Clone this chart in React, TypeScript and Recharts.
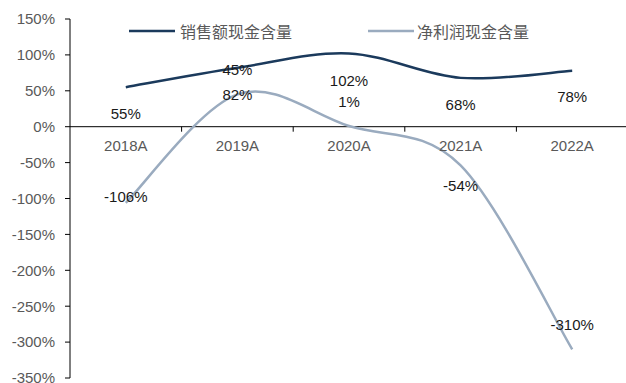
import React from 'react';
import { LineChart, Line, XAxis, YAxis, ReferenceLine, Legend } from 'recharts';

// ---- data ----
const categories = ['2018A', '2019A', '2020A', '2021A', '2022A'];
const salesCash = [55, 82, 102, 68, 78];
const profitCash = [-106, 45, 1, -54, -310];
const yTicks = [150, 100, 50, 0, -50, -100, -150, -200, -250, -300, -350];
const seriesNames = ['销售额现金含量', '净利润现金含量'];

// label placement (px offset from the point, vertical)
const salesLabelDy = [27, 27, 27, 27, 26];
const profitLabelDy = [-6, -25, -24, 20, -25];

const data = categories.map((c, i) => ({ category: c, sales: salesCash[i], profit: profitCash[i] }));

// ---- layout ----
const W = 626;
const H = 383;
const margin = { top: 19, right: -2, bottom: 4, left: 0 };
const yAxisWidth = 70;
const xAxisHeight = 1;
const yMin = -350;
const yMax = 150;
const plotTop = margin.top;
const plotH = H - margin.top - margin.bottom - xAxisHeight;
const plotW = W - margin.left - margin.right - yAxisWidth;
const zeroY = plotTop + (plotH * (yMax - 0)) / (yMax - yMin);
const bandW = plotW / categories.length;

const DARK = '#1b3a5c';
const LIGHT = '#9aabbf';
const GRAY = '#595959';
const FONT = '"Liberation Sans", Arial, sans-serif';

// Excel-like smooth curve (Catmull-Rom style bezier)
function excelSmooth(context: any) {
  let pts: [number, number][] = [];
  return {
    areaStart() {},
    areaEnd() {},
    lineStart() {
      pts = [];
    },
    lineEnd() {
      const n = pts.length;
      if (!n) return;
      context.moveTo(pts[0][0], pts[0][1]);
      for (let i = 0; i < n - 1; i++) {
        const p0 = pts[Math.max(i - 1, 0)];
        const p1 = pts[i];
        const p2 = pts[i + 1];
        const p3 = pts[Math.min(i + 2, n - 1)];
        const c1x = p1[0] + (p2[0] - p0[0]) / 6;
        const c1y = p1[1] + (p2[1] - p0[1]) / 6;
        const c2x = p2[0] - (p3[0] - p1[0]) / 6;
        const c2y = p2[1] - (p3[1] - p1[1]) / 6;
        context.bezierCurveTo(c1x, c1y, c2x, c2y, p2[0], p2[1]);
      }
    },
    point(x: number, y: number) {
      pts.push([+x, +y]);
    },
  };
}

const makeLabel = (offsets: number[]) => (props: any) => {
  const { x, y, value, index } = props;
  return (
    <text
      key={`l-${index}`}
      x={x}
      y={y + offsets[index]}
      dy="0.35em"
      textAnchor="middle"
      fontSize={15}
      fontFamily={FONT}
      fill="#1a1a1a"
    >
      {`${value}%`}
    </text>
  );
};

const CategoryTick = (props: any) => {
  const { x, payload, index } = props;
  return (
    <g>
      <text x={x} y={zeroY + 19} dy="0.35em" textAnchor="middle" fontSize={15} fontFamily={FONT} fill={GRAY}>
        {payload.value}
      </text>
      {index < categories.length - 1 && (
        <line x1={x + bandW / 2} x2={x + bandW / 2} y1={zeroY} y2={zeroY + 5} stroke="#000" strokeWidth={1} />
      )}
    </g>
  );
};

const LegendContent = () => {
  const colors = [DARK, LIGHT];
  return (
    <div style={{ display: 'flex', alignItems: 'center' }}>
      {seriesNames.map((name, i) => (
        <div key={name} style={{ display: 'flex', alignItems: 'center', marginRight: i === 0 ? 76 : 0 }}>
          <svg width={46} height={6} style={{ display: 'block' }}>
            <line x1={0} x2={46} y1={3} y2={3} stroke={colors[i]} strokeWidth={2.5} />
          </svg>
          <span
            style={{
              marginLeft: i === 0 ? 5 : 3,
              fontSize: 16,
              lineHeight: '20px',
              color: GRAY,
              fontFamily: '"Noto Sans CJK SC", sans-serif',
              whiteSpace: 'nowrap',
            }}
          >
            {name}
          </span>
        </div>
      ))}
    </div>
  );
};

export default function App() {
  return (
    <div style={{ position: 'absolute', left: 0, top: 0, width: W, height: H, background: '#fff' }}>
      <LineChart width={W} height={H} data={data} margin={margin}>
        <XAxis
          dataKey="category"
          height={xAxisHeight}
          axisLine={false}
          tickLine={false}
          interval={0}
          padding={{ left: bandW / 2, right: bandW / 2 }}
          tick={<CategoryTick />}
        />
        <YAxis
          width={yAxisWidth}
          domain={[yMin, yMax]}
          ticks={yTicks}
          interval={0}
          tickFormatter={(v: number) => `${v}%`}
          axisLine={{ stroke: '#000', strokeWidth: 1 }}
          tickLine={{ stroke: '#000', strokeWidth: 1 }}
          tickSize={5}
          tickMargin={10}
          tick={{ fontSize: 15, fontFamily: FONT, fill: GRAY }}
          allowDataOverflow
        />
        <ReferenceLine y={0} stroke="#000" strokeWidth={1} />
        <Legend
          verticalAlign="middle"
          align="center"
          content={<LegendContent />}
          wrapperStyle={{ position: 'absolute', left: 129, top: 21, width: 420 }}
        />
        <Line
          dataKey="sales"
          name={seriesNames[0]}
          type={excelSmooth as any}
          stroke={DARK}
          strokeWidth={2.5}
          dot={false}
          activeDot={false}
          isAnimationActive={false}
          label={makeLabel(salesLabelDy)}
        />
        <Line
          dataKey="profit"
          name={seriesNames[1]}
          type={excelSmooth as any}
          stroke={LIGHT}
          strokeWidth={2.5}
          dot={false}
          activeDot={false}
          isAnimationActive={false}
          label={makeLabel(profitLabelDy)}
        />
      </LineChart>
    </div>
  );
}
